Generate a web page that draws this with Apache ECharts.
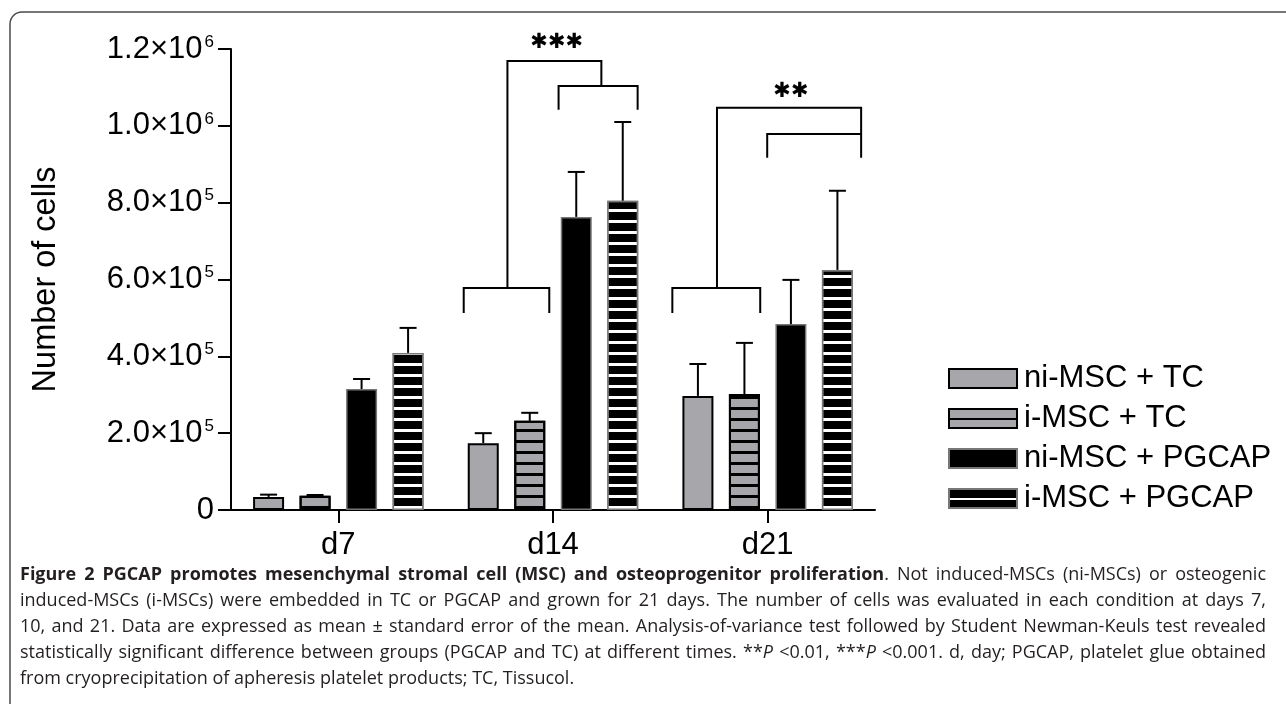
<!DOCTYPE html>
<html>
<head>
<meta charset="utf-8">
<script src="https://cdn.jsdelivr.net/npm/echarts@6/dist/echarts.min.js"></script>
<style>
  html, body { margin: 0; padding: 0; background: #fff; }
  #chart { position: absolute; left: 0; top: 0; width: 1286px; height: 704px; }
  #cap { position: absolute; left: 20px; top: 560px; width: 1246px; font-family: 'Open Sans', sans-serif; font-size: 18px; line-height: 26px; color: #231f20; z-index: 2; }
  #cap div { white-space: nowrap; text-align: justify; text-align-last: justify; }
  #cap div.last { text-align-last: left; }
</style>
</head>
<body>
<div id="chart"></div>
<div id="cap">
  <div><b>Figure 2 PGCAP promotes mesenchymal stromal cell (MSC) and osteoprogenitor proliferation</b>. Not induced-MSCs (ni-MSCs) or osteogenic</div>
  <div>induced-MSCs (i-MSCs) were embedded in TC or PGCAP and grown for 21 days. The number of cells was evaluated in each condition at days 7,</div>
  <div>10, and 21. Data are expressed as mean ± standard error of the mean. Analysis-of-variance test followed by Student Newman-Keuls test revealed</div>
  <div>statistically significant difference between groups (PGCAP and TC) at different times. **<i>P</i> &lt;0.01, ***<i>P</i> &lt;0.001. d, day; PGCAP, platelet glue obtained</div>
  <div class="last">from cryoprecipitation of apheresis platelet products; TC, Tissucol.</div>
</div>
<script>
// ---------- data ----------
const categories = ['d7', 'd14', 'd21'];
const seriesNames = ['ni-MSC + TC', 'i-MSC + TC', 'ni-MSC + PGCAP', 'i-MSC + PGCAP'];
const niMscTc = [34000, 174000, 297000];
const iMscTc = [37000, 232000, 302000];
const niMscPgcap = [315000, 763000, 484000];
const iMscPgcap = [409000, 805000, 625000];
const niMscTcErr = [6000, 26000, 83000];
const iMscTcErr = [2000, 21000, 133000];
const niMscPgcapErr = [26000, 117000, 115000];
const iMscPgcapErr = [65000, 205000, 206000];
const yTickValues = [0, 200000, 400000, 600000, 800000, 1000000, 1200000];
const yTickMantissa = ['0', '2.0', '4.0', '6.0', '8.0', '1.0', '1.2'];
const yTickExponent = ['', '5', '5', '5', '5', '6', '6'];
// significance brackets: points as [categoryIndex, barSlot, value]
const bracketPaths = [
  [[1, -0.42, 513000], [1, -0.42, 578000], [1, 1.42, 578000], [1, 1.42, 513000]],
  [[1, 0.52, 578000], [1, 0.52, 1169000], [1, 2.54, 1169000], [1, 2.54, 1104000]],
  [[1, 1.62, 1042000], [1, 1.62, 1104000], [1, 3.32, 1104000], [1, 3.32, 1042000]],
  [[2, -0.55, 513000], [2, -0.55, 578000], [2, 1.34, 578000], [2, 1.34, 513000]],
  [[2, 0.41, 578000], [2, 0.41, 1047000], [2, 3.51, 1047000], [2, 3.51, 917000]],
  [[2, 1.49, 917000], [2, 1.49, 979000], [2, 3.51, 979000]]
];
const starLabels = ['✱✱✱', '✱✱'];
const starCategory = [1, 2];
const starSlot = [1.58, 2.0];
const starValue = [1216000, 1089000];

// ---------- layout / style ----------
const BAR_W = 31;
const BAR_GAP = 0.5;
const STEP = BAR_W * (1 + BAR_GAP);
const FONT = "'Liberation Sans', Arial, sans-serif";
const GRAY = '#a7a6ab';

const values = [niMscTc, iMscTc, niMscPgcap, iMscPgcap];
const errs = [niMscTcErr, iMscTcErr, niMscPgcapErr, iMscPgcapErr];

function stripes(color) {
  return { symbol: 'rect', symbolSize: 1, dashArrayX: [1, 0], dashArrayY: [2.2, 7.5], color: color, rotation: 0 };
}
function legendStripe(color) {
  return { symbol: 'rect', symbolSize: 1, dashArrayX: [1, 0], dashArrayY: [0, 8.5, 2, 8.5], color: color, rotation: 0 };
}

const barStyles = [
  { color: GRAY, borderColor: '#000', borderWidth: 2 },
  { color: GRAY, borderColor: '#000', borderWidth: 2, decal: stripes('#000') },
  { color: '#000', borderColor: '#777', borderWidth: 1.5 },
  { color: '#000', borderColor: '#777', borderWidth: 1.5, decal: stripes('#fff') }
];

const barSeries = seriesNames.map((name, i) => ({
  name: name,
  type: 'bar',
  barWidth: BAR_W,
  barGap: (BAR_GAP * 100) + '%',
  data: values[i],
  itemStyle: barStyles[i],
  z: 2
}));

const errData = [];
values.forEach((arr, s) => arr.forEach((v, c) => errData.push([c, v, errs[s][c], s])));

const errSeries = {
  name: 'errors',
  type: 'custom',
  clip: false,
  z: 3,
  encode: { x: 0, y: 1 },
  data: errData,
  renderItem: function (params, api) {
    const c = api.value(0), v = api.value(1), e = api.value(2), s = api.value(3);
    const base = api.coord([c, v]);
    const top = api.coord([c, v + e]);
    const x = base[0] + (s - 1.5) * STEP;
    const st = { stroke: '#000', lineWidth: 2 };
    return {
      type: 'group',
      children: [
        { type: 'line', shape: { x1: x, y1: base[1], x2: x, y2: top[1] }, style: st },
        { type: 'line', shape: { x1: x - 8.5, y1: top[1], x2: x + 8.5, y2: top[1] }, style: st }
      ]
    };
  }
};

const bracketSeries = {
  name: 'brackets',
  type: 'custom',
  clip: false,
  z: 3,
  encode: { x: 0, y: 1 },
  data: bracketPaths.map((p, i) => [p[0][0], p[0][2], i]),
  renderItem: function (params, api) {
    const path = bracketPaths[api.value(2)];
    const pts = path.map(function (q) {
      const pt = api.coord([q[0], q[2]]);
      return [pt[0] + (q[1] - 1.5) * STEP, pt[1]];
    });
    return { type: 'polyline', shape: { points: pts }, style: { stroke: '#000', lineWidth: 2, fill: null } };
  }
};

const starSeries = {
  name: 'stars',
  type: 'custom',
  clip: false,
  z: 3,
  encode: { x: 0, y: 1 },
  data: starLabels.map((t, i) => [starCategory[i], starValue[i], i]),
  renderItem: function (params, api) {
    const i = api.value(2);
    const pt = api.coord([starCategory[i], starValue[i]]);
    return {
      type: 'text',
      x: pt[0] + (starSlot[i] - 1.5) * STEP,
      y: pt[1],
      style: { text: starLabels[i], fill: '#000', font: "21px 'DejaVu Sans'", align: 'center', verticalAlign: 'middle' }
    };
  }
};

const legendData = seriesNames.map((name, i) => {
  const item = { name: name };
  if (i === 1) item.itemStyle = { decal: legendStripe('#000') };
  if (i === 3) item.itemStyle = { decal: legendStripe('#fff') };
  return item;
});

const chart = echarts.init(document.getElementById('chart'), null, { renderer: 'canvas' });
chart.setOption({
  animation: false,
  backgroundColor: '#fff',
  textStyle: { fontFamily: FONT },
  graphic: [{
    type: 'rect', silent: true, z: -10,
    shape: { x: 10, y: 12, width: 1300, height: 720, r: 12 },
    style: { fill: null, stroke: '#4a4a4a', lineWidth: 1.5 }
  }],
  grid: { left: 231, right: 411, top: 49, bottom: 194, containLabel: false },
  legend: {
    data: legendData,
    orient: 'vertical',
    left: 943,
    top: 358,
    icon: 'rect',
    itemWidth: 68,
    itemHeight: 19,
    itemGap: 9,
    textStyle: { fontFamily: FONT, fontSize: 31, lineHeight: 30, color: '#000', padding: [0, 0, 0, 2] }
  },
  xAxis: {
    type: 'category',
    data: categories,
    axisLine: { lineStyle: { color: '#000', width: 2 } },
    axisTick: { show: true, alignWithLabel: true, length: 13, lineStyle: { color: '#000', width: 2 } },
    axisLabel: { fontFamily: FONT, fontSize: 31, color: '#000', margin: 20 }
  },
  yAxis: {
    type: 'value',
    min: 0,
    max: 1200000,
    interval: 200000,
    name: 'Number of cells',
    nameLocation: 'middle',
    nameGap: 168,
    nameTextStyle: { fontFamily: FONT, fontSize: 32.5, color: '#000' },
    splitLine: { show: false },
    axisLine: { show: true, lineStyle: { color: '#000', width: 2 } },
    axisTick: { show: true, length: 13, lineStyle: { color: '#000', width: 2 } },
    axisLabel: {
      margin: 17,
      formatter: function (v) {
        const i = yTickValues.indexOf(v);
        if (i < 0) return '';
        if (!yTickExponent[i]) return '{a|' + yTickMantissa[i] + '}';
        return '{a|' + yTickMantissa[i] + '×10}{s|' + yTickExponent[i] + '}';
      },
      rich: {
        a: { fontFamily: FONT, fontSize: 31, color: '#000', lineHeight: 31, verticalAlign: 'top' },
        s: { fontFamily: FONT, fontSize: 17, color: '#000', lineHeight: 17, verticalAlign: 'top', padding: [0, 0, 0, 2] }
      }
    }
  },
  series: barSeries.concat([errSeries, bracketSeries, starSeries])
});
</script>
</body>
</html>
